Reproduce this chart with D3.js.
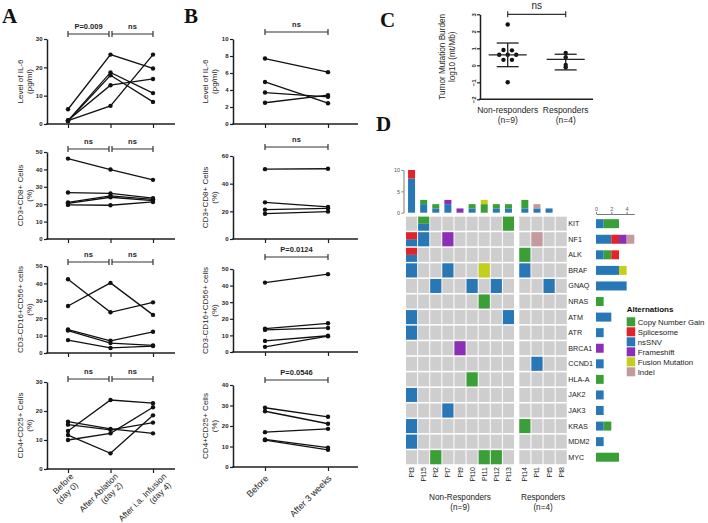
<!DOCTYPE html>
<html><head><meta charset="utf-8">
<script src="https://cdn.jsdelivr.net/npm/d3@7"></script>
<style>
html,body{margin:0;padding:0;background:#fff;}
svg{display:block;}
</style></head>
<body>
<svg id="chart" width="708" height="523"></svg>
<script>
// ================= DATA =================
// Panel A (5 patients, 3 time points)
const aTimes = ["Before", "After Ablation", "After i.a. Infusion"];
const aDays = ["(day 0)", "(day 2)", "(day 4)"];
const aIL6 = [[5.2,24.5,19.6],[1.2,6.4,24.5],[1.2,18.2,10.9],[1.0,17.2,7.8],[1.3,13.7,15.9]];
const aCD8 = [[46.2,39.9,34.0],[26.7,26.2,23.5],[21.0,24.8,22.8],[20.5,24.0,22.0],[19.6,19.4,21.3]];
const aNK = [[42.4,23.4,29.1],[27.0,40.3,21.9],[13.5,7.0,12.2],[12.9,5.7,4.4],[7.4,2.9,4.0]];
const aTreg = [[13.1,23.8,22.7],[10.0,12.3,21.3],[11.7,5.4,18.5],[16.3,13.8,12.3],[15.3,13.5,16.0]];
const aTicks = [[0,10,20,30],[0,10,20,30,40,50],[0,10,20,30,40,50],[0,10,20,30]];
const aTests = [["P=0.009","ns"],["ns","ns"],["ns","ns"],["ns","ns"]];

// Panel B (2 time points)
const bTimes = ["Before", "After 3 weeks"];
const bIL6 = [[7.7,6.1],[4.95,2.45],[3.7,3.2],[2.5,3.4]];
const bCD8 = [[50.5,50.8],[26.5,23.2],[21.2,22.2],[18.3,19.8]];
const bNK = [[41.8,46.9],[14.1,17.3],[13.3,14.5],[6.7,9.8],[3.1,9.5]];
const bTreg = [[28.9,24.5],[27.2,21.1],[17.0,18.6],[13.5,9.4],[13.1,8.4]];
const bTicks = [[0,2,4,6,8,10],[0,20,40,60],[0,10,20,30,40,50],[0,10,20,30,40]];
const bTests = ["ns","ns","P=0.0124","P=0.0546"];

const rowLabels = [["Level of IL-6","(pg/ml)"],["CD3+CD8+ Cells","(%)"],["CD3-CD16+CD56+ cells","(%)"],["CD4+CD25+ Cells","(%)"]];

// Panel C
const tmbGroups = ["Non-responders","Responders"];
const tmbN = ["(n=9)","(n=4)"];
const tmbNonResp = [2.4,0.9,0.88,0.62,0.62,0.62,0.32,0.32,-1.0];
const tmbResp = [0.72,0.48,0.02,-0.12];
const tmbMean = [0.61,0.35];
const tmbLow = [-0.08,-0.27];
const tmbHigh = [1.31,0.65];
const tmbTicks = [-2,-1,0,1,2,3];
const tmbTest = "ns";

// Panel D
const nonResponders = ["Pt3","Pt15","Pt2","Pt7","Pt9","Pt10","Pt11","Pt12","Pt13"];
const responders = ["Pt14","Pt1","Pt5","Pt8"];
const genes = ["KIT","NF1","ALK","BRAF","GNAQ","NRAS","ATM","ATR","BRCA1","CCND1","HLA-A","JAK2","JAK3","KRAS","MDM2","MYC"];
const altTypes = ["Copy Number Gain","Splicesome","nsSNV","Frameshift","Fusion Mutation","Indel"];
const altColors = ["#3a9f36","#e3222a","#2878b8","#8a2fb6","#c4cf1c","#c49a9c"];
const stackOrder = ["nsSNV","Copy Number Gain","Splicesome","Frameshift","Fusion Mutation","Indel"];
const mutations = [
 ["KIT","Pt15","nsSNV"],["KIT","Pt15","Copy Number Gain"],["KIT","Pt13","Copy Number Gain"],
 ["NF1","Pt3","nsSNV"],["NF1","Pt3","Splicesome"],["NF1","Pt15","nsSNV"],["NF1","Pt7","Frameshift"],["NF1","Pt1","Indel"],
 ["ALK","Pt3","nsSNV"],["ALK","Pt3","Splicesome"],["ALK","Pt14","Copy Number Gain"],
 ["BRAF","Pt3","nsSNV"],["BRAF","Pt7","nsSNV"],["BRAF","Pt11","Fusion Mutation"],["BRAF","Pt14","nsSNV"],
 ["GNAQ","Pt2","nsSNV"],["GNAQ","Pt10","nsSNV"],["GNAQ","Pt12","nsSNV"],["GNAQ","Pt5","nsSNV"],
 ["NRAS","Pt11","Copy Number Gain"],
 ["ATM","Pt3","nsSNV"],["ATM","Pt13","nsSNV"],
 ["ATR","Pt3","nsSNV"],
 ["BRCA1","Pt9","Frameshift"],
 ["CCND1","Pt1","nsSNV"],
 ["HLA-A","Pt10","Copy Number Gain"],
 ["JAK2","Pt3","nsSNV"],
 ["JAK3","Pt7","nsSNV"],
 ["KRAS","Pt3","nsSNV"],["KRAS","Pt14","Copy Number Gain"],
 ["MDM2","Pt3","nsSNV"],
 ["MYC","Pt2","Copy Number Gain"],["MYC","Pt11","Copy Number Gain"],["MYC","Pt12","Copy Number Gain"]
];
const topTicks = [0,5,10];
const sideTicks = [0,2,4];
const groupNames = [["Non-Responders","(n=9)"],["Responders","(n=4)"]];

// ================= DRAWING =================
const FONT = "'Liberation Sans', Arial, Helvetica, sans-serif";
const SERIF = "'Liberation Serif', 'Times New Roman', serif";
const INK = "#1e1e1e";
const svg = d3.select("#chart").attr("font-family", FONT);

function styleAxis(sel, fs, bold, color) {
  const c = color || INK;
  sel.attr("font-family", FONT);
  sel.select(".domain").attr("stroke", c).attr("stroke-width", 1.5);
  sel.selectAll(".tick line").attr("stroke", c).attr("stroke-width", 1.2);
  sel.selectAll(".tick text").attr("font-size", fs).attr("font-weight", bold ? "bold" : "normal").attr("fill", c);
}

function bracket(g, xa, xb, y, label, fs) {
  g.append("line").attr("x1", xa).attr("x2", xb).attr("y1", y).attr("y2", y).attr("stroke", "#333").attr("stroke-width", 1.2);
  [xa, xb].forEach(xx => g.append("line").attr("x1", xx).attr("x2", xx).attr("y1", y - 3).attr("y2", y + 3).attr("stroke", "#333").attr("stroke-width", 1.2));
  g.append("text").attr("x", (xa + xb) / 2).attr("y", y - 5).attr("text-anchor", "middle")
    .attr("font-size", fs).attr("font-weight", "bold").attr("fill", INK).text(label);
}

function yLabel(cx1, cx2, cy, lines, fs) {
  const g = svg.append("g").attr("transform", `translate(0,${cy}) rotate(-90)`);
  g.append("text").attr("x", 0).attr("y", cx1 + fs * 0.35).attr("text-anchor", "middle").attr("font-size", fs).attr("fill", INK).text(lines[0]);
  if (lines[1]) g.append("text").attr("x", 0).attr("y", cx2 + fs * 0.35).attr("text-anchor", "middle").attr("font-size", fs).attr("fill", INK).text(lines[1]);
}

function rotLabel(px, py, lines, fs) {
  const g = svg.append("g").attr("transform", `translate(${px},${py}) rotate(-45)`);
  g.append("text").attr("text-anchor", "end").attr("font-size", fs).attr("fill", INK).text(lines[0]);
  if (lines[1]) {
    g.append("text").attr("text-anchor", "end").attr("x", -3).attr("y", fs * 1.1).attr("font-size", fs).attr("fill", INK).text(lines[1]);
  }
}

function drawPaired(layout, row, ticks, series, tests, labels) {
  const n = series[0].length;
  const x = d3.scalePoint().domain(d3.range(n)).range([layout.x0, layout.x1]);
  const y = d3.scaleLinear().domain([0, d3.max(ticks)]).range([row.bottom, row.top]);
  const g = svg.append("g");
  const ya = g.append("g").attr("transform", `translate(${layout.axisX},0)`)
    .call(d3.axisLeft(y).tickValues(ticks).tickSize(3).tickSizeOuter(0).tickPadding(1.5).tickFormat(d3.format("d")));
  styleAxis(ya, 6, true);
  g.append("line").attr("x1", layout.axisX - 0.75).attr("x2", layout.xEnd).attr("y1", row.bottom).attr("y2", row.bottom)
    .attr("stroke", INK).attr("stroke-width", 1.5);
  const xa = g.append("g").attr("transform", `translate(0,${row.bottom})`).call(d3.axisBottom(x).tickSize(4).tickFormat(""));
  xa.select(".domain").remove();
  xa.selectAll(".tick line").attr("stroke", INK).attr("stroke-width", 1.2);

  const line = d3.line().x((d, i) => x(i)).y(d => y(d));
  g.selectAll("path.s").data(series).join("path").attr("class", "s").attr("d", line)
    .attr("fill", "none").attr("stroke", "#111").attr("stroke-width", 1.3);
  g.selectAll("g.pts").data(series).join("g").attr("class", "pts")
    .selectAll("circle").data(d => d).join("circle")
    .attr("cx", (d, i) => x(i)).attr("cy", d => y(d)).attr("r", 2.2).attr("fill", "#111");

  tests.forEach((t, k) => {
    bracket(g, x(k) + (k > 0 ? 1.5 : 0), x(k + 1) - (k + 1 < n - 1 ? 1.5 : 0), row.br, t, 7.5);
  });
  yLabel(layout.lab1, layout.lab2, (row.top + row.bottom) / 2, labels, 8);
  return x;
}

// Panel letters
[["A", 2, 23], ["B", 184, 23], ["C", 380, 27], ["D", 376, 131]].forEach(([t, lx, ly]) => {
  svg.append("text").attr("x", lx).attr("y", ly).attr("font-family", SERIF).attr("font-weight", "bold")
    .attr("font-size", 21).attr("fill", "#111").text(t);
});

// ---- Panel A ----
const aLayout = {x0: 68, x1: 153, axisX: 47, xEnd: 175, lab1: 20, lab2: 29.5};
const aRows = [{top:39,bottom:124,br:34},{top:152,bottom:239,br:149},{top:266,bottom:353,br:262},{top:382,bottom:469,br:379}];
const aData = [aIL6, aCD8, aNK, aTreg];
let aX;
aData.forEach((s, r) => { aX = drawPaired(aLayout, aRows[r], aTicks[r], s, aTests[r], rowLabels[r]); });
const aLabelShift = [6, 8, 14];
aTimes.forEach((t, i) => rotLabel(aX(i) + aLabelShift[i], 477, [t, aDays[i]], 8.5));

// ---- Panel B ----
const bLayout = {x0: 265, x1: 328, axisX: 233, xEnd: 358, lab1: 205, lab2: 214.5};
const bRows = [{top:39,bottom:124,br:32},{top:156,bottom:239,br:147},{top:269,bottom:352,br:257},{top:385,bottom:467,br:380}];
const bData = [bIL6, bCD8, bNK, bTreg];
let bX;
bData.forEach((s, r) => { bX = drawPaired(bLayout, bRows[r], bTicks[r], s, [bTests[r]], rowLabels[r]); });
bTimes.forEach((t, i) => rotLabel(bX(i) + 4, 479, [t], 9));

// ---- Panel C ----
(function () {
  const axisX = 480, xEnd = 593;
  const y = d3.scaleLinear().domain([-2, 3]).range([99.3, 14.3]);
  const x = d3.scalePoint().domain(tmbGroups).range([507.7, 565.7]);
  const g = svg.append("g");
  const ya = g.append("g").attr("transform", `translate(${axisX},0)`)
    .call(d3.axisLeft(y).tickValues(tmbTicks).tickSize(3).tickSizeOuter(0).tickFormat(d3.format("d")));
  styleAxis(ya, 6, true);
  ya.selectAll(".tick text").attr("x", null).attr("dy", null).attr("text-anchor", "middle")
    .attr("transform", "translate(-4.5,0) rotate(-90)");
  g.append("line").attr("x1", axisX - 0.75).attr("x2", xEnd).attr("y1", y(-2)).attr("y2", y(-2)).attr("stroke", INK).attr("stroke-width", 1.5);

  function dodge(vals, thr, sp) {
    const sorted = vals.slice().sort((a, b) => b - a);
    const groups = [];
    sorted.forEach(v => {
      const last = groups[groups.length - 1];
      if (last && Math.abs(last[0] - v) < thr) last.push(v); else groups.push([v]);
    });
    const out = [];
    groups.forEach(gr => gr.forEach((v, k) => out.push({v, off: (k - (gr.length - 1) / 2) * sp})));
    return out;
  }
  [tmbNonResp, tmbResp].forEach((vals, gi) => {
    const cx = x(tmbGroups[gi]);
    g.append("g").selectAll("circle").data(dodge(vals, 0.1, 8.5)).join("circle")
      .attr("cx", d => cx + d.off).attr("cy", d => y(d.v)).attr("r", 2.2).attr("fill", "#111");
    const mw = 19, cw = 11;
    g.append("line").attr("x1", cx - mw).attr("x2", cx + mw).attr("y1", y(tmbMean[gi])).attr("y2", y(tmbMean[gi])).attr("stroke", "#222").attr("stroke-width", 1.3);
    g.append("line").attr("x1", cx).attr("x2", cx).attr("y1", y(tmbLow[gi])).attr("y2", y(tmbHigh[gi])).attr("stroke", "#222").attr("stroke-width", 1.3);
    [tmbLow[gi], tmbHigh[gi]].forEach(v => g.append("line").attr("x1", cx - cw).attr("x2", cx + cw).attr("y1", y(v)).attr("y2", y(v)).attr("stroke", "#222").attr("stroke-width", 1.3));
    g.append("text").attr("x", cx).attr("y", 113).attr("text-anchor", "middle").attr("font-size", 8.5).attr("fill", INK).text(tmbGroups[gi]);
    g.append("text").attr("x", cx).attr("y", 122.5).attr("text-anchor", "middle").attr("font-size", 8.5).attr("fill", INK).text(tmbN[gi]);
  });
  // bracket
  const xa = x(tmbGroups[0]), xb = x(tmbGroups[1]), by = y(3);
  g.append("line").attr("x1", xa).attr("x2", xb).attr("y1", by).attr("y2", by).attr("stroke", "#333").attr("stroke-width", 1.2);
  [xa, xb].forEach(xx => g.append("line").attr("x1", xx).attr("x2", xx).attr("y1", by - 3).attr("y2", by + 3).attr("stroke", "#333").attr("stroke-width", 1.2));
  g.append("text").attr("x", (xa + xb) / 2).attr("y", 8.5).attr("text-anchor", "middle").attr("font-size", 10).attr("fill", INK).text(tmbTest);
  yLabel(441.7, 452, (y(3) + y(-2)) / 2, ["Tumor Mutation Burden", "log10 (mt/Mb)"], 8.2);
})();

// ---- Panel D ----
(function () {
  const color = d3.scaleOrdinal().domain(altTypes).range(altColors);
  const xNR = d3.scaleBand().domain(nonResponders).range([405.5, 514.5]).paddingInner(1 / 12).paddingOuter(1 / 24);
  const xR = d3.scaleBand().domain(responders).range([518.8, 567.3]).paddingInner(1 / 12).paddingOuter(1 / 24);
  const colX = p => nonResponders.includes(p) ? xNR(p) : xR(p);
  const bw = xNR.bandwidth();
  const yRow = d3.scaleBand().domain(genes).range([215.9, 465.0]).paddingInner(0.1).paddingOuter(0.05);
  const bh = yRow.bandwidth();
  const allPts = nonResponders.concat(responders);
  const g = svg.append("g");

  // cells
  genes.forEach(gene => {
    allPts.forEach(p => {
      const x0 = colX(p), y0 = yRow(gene);
      g.append("rect").attr("x", x0).attr("y", y0).attr("width", bw).attr("height", bh).attr("fill", "#cecece");
      const alts = mutations.filter(m => m[0] === gene && m[1] === p).map(m => m[2])
        .sort((a, b) => stackOrder.indexOf(a) - stackOrder.indexOf(b));
      const h = bh / (alts.length || 1);
      alts.forEach((t, k) => {
        g.append("rect").attr("x", x0).attr("y", y0 + bh - h * (k + 1)).attr("width", bw).attr("height", h).attr("fill", color(t));
      });
    });
  });

  // top bars
  const yTop = d3.scaleLinear().domain([0, 10]).range([212.7, 170]);
  const colCounts = allPts.map(p => {
    const o = {pt: p};
    stackOrder.forEach(t => o[t] = mutations.filter(m => m[1] === p && m[2] === t).length);
    return o;
  });
  const colStack = d3.stack().keys(stackOrder)(colCounts);
  const tbw = 7;
  colStack.forEach(layer => {
    g.append("g").selectAll("rect").data(layer.filter(d => d[1] > d[0])).join("rect")
      .attr("x", d => colX(d.data.pt) + (bw - tbw) / 2).attr("width", tbw)
      .attr("y", d => yTop(d[1])).attr("height", d => yTop(d[0]) - yTop(d[1]))
      .attr("fill", color(layer.key));
  });
  const ta = g.append("g").attr("transform", "translate(403.5,0)")
    .call(d3.axisLeft(yTop).tickValues(topTicks).tickSize(2).tickSizeOuter(0).tickPadding(1.5).tickFormat(d3.format("d")));
  styleAxis(ta, 5.5, false, "#555");
  ta.select(".domain").attr("stroke-width", 0.8);
  ta.selectAll(".tick line").attr("stroke-width", 0.8);

  // side bars
  const xSide = d3.scaleLinear().domain([0, 5]).range([596, 634.3]);
  const rowCounts = genes.map(gene => {
    const o = {gene};
    stackOrder.forEach(t => o[t] = mutations.filter(m => m[0] === gene && m[2] === t).length);
    return o;
  });
  const rowStack = d3.stack().keys(stackOrder)(rowCounts);
  const sbh = 9;
  rowStack.forEach(layer => {
    g.append("g").selectAll("rect").data(layer.filter(d => d[1] > d[0])).join("rect")
      .attr("y", d => yRow(d.data.gene) + (bh - sbh) / 2).attr("height", sbh)
      .attr("x", d => xSide(d[0])).attr("width", d => xSide(d[1]) - xSide(d[0]))
      .attr("fill", color(layer.key));
  });
  const sa = g.append("g").attr("transform", "translate(0,214)")
    .call(d3.axisTop(xSide).tickValues(sideTicks).tickSize(2).tickSizeOuter(0).tickPadding(1.5).tickFormat(d3.format("d")));
  styleAxis(sa, 5.5, false, "#555");
  sa.select(".domain").attr("stroke-width", 0.8);
  sa.selectAll(".tick line").attr("stroke-width", 0.8);

  // gene labels
  g.append("g").selectAll("text").data(genes).join("text")
    .attr("x", 568.3).attr("y", d => yRow(d) + bh / 2).attr("dy", "0.35em")
    .attr("font-size", 7.2).attr("fill", "#222").text(d => d);

  // patient labels
  g.append("g").selectAll("text").data(allPts).join("text")
    .attr("transform", d => `translate(${colX(d) + bw / 2 + 2.5},467) rotate(-90)`)
    .attr("text-anchor", "end").attr("font-size", 7).attr("fill", "#222").text(d => d);

  // group labels
  const gcx = [(xNR.range()[0] + xNR.range()[1]) / 2, (xR.range()[0] + xR.range()[1]) / 2];
  groupNames.forEach((lines, i) => {
    g.append("text").attr("x", gcx[i]).attr("y", 500).attr("text-anchor", "middle").attr("font-size", 8.2).attr("fill", "#222").text(lines[0]);
    g.append("text").attr("x", gcx[i]).attr("y", 509.5).attr("text-anchor", "middle").attr("font-size", 8.2).attr("fill", "#222").text(lines[1]);
  });

  // legend
  const lg = g.append("g").attr("transform", "translate(626.7,317.3)");
  lg.append("text").attr("x", 0).attr("y", -5).attr("font-size", 8).attr("font-weight", "bold").attr("fill", "#111").text("Alternations");
  altTypes.forEach((t, i) => {
    lg.append("rect").attr("x", 0).attr("y", i * 10).attr("width", 8.5).attr("height", 9).attr("fill", color(t));
    lg.append("text").attr("x", 11).attr("y", i * 10 + 7.5).attr("font-size", 7.8).attr("fill", "#222").text(t);
  });
})();
</script>
</body></html>
